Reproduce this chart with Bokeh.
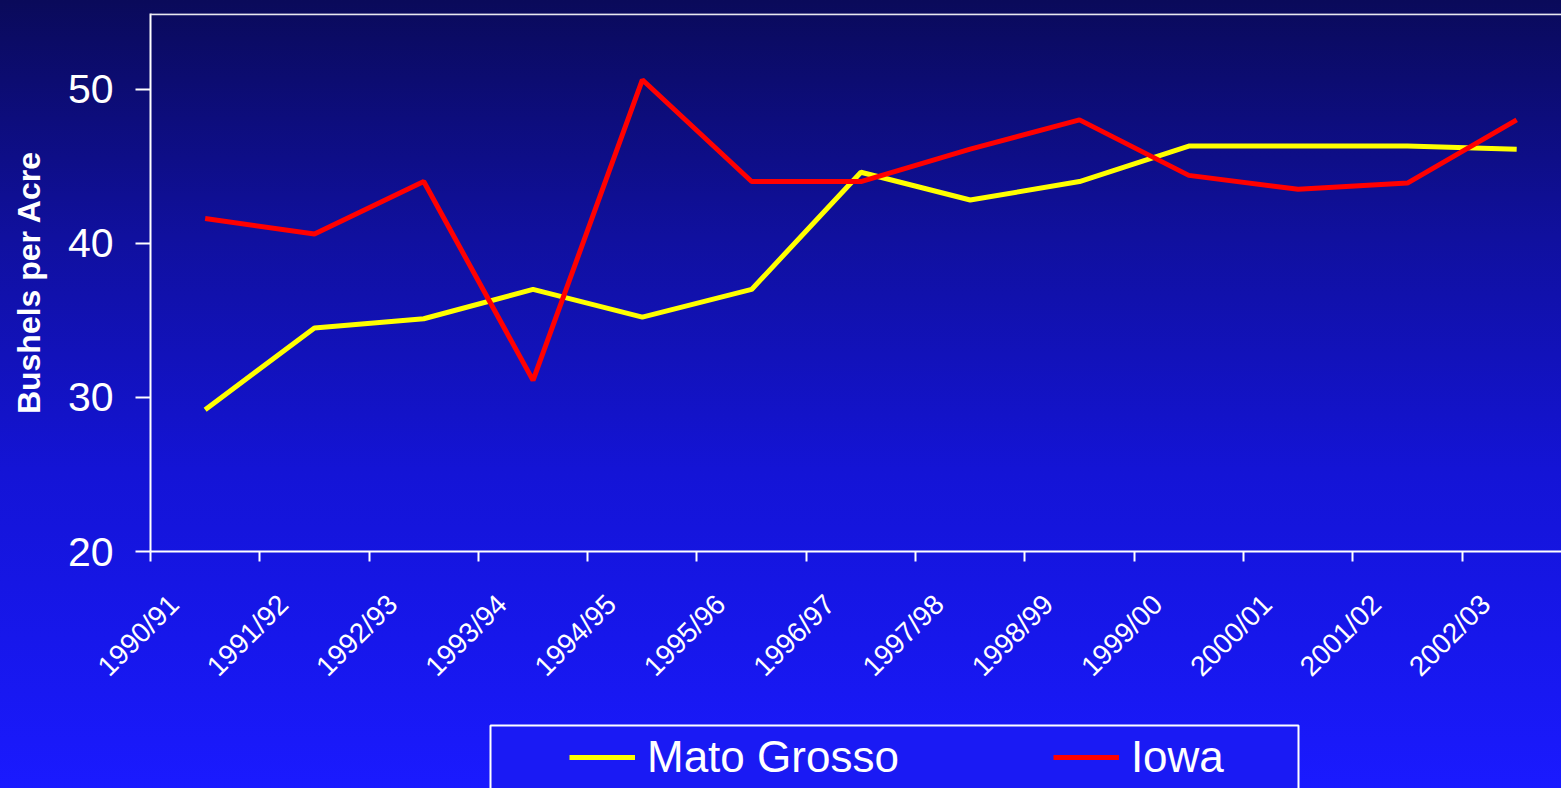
import math
from bokeh.plotting import figure
from bokeh.layouts import column
from bokeh.models import (Range1d, FixedTicker, LinearAxis, CustomJSTickFormatter,
                          Legend, LegendItem, Span, ColumnDataSource, BoxAnnotation)
from bokeh.embed import file_html
from bokeh.resources import INLINE

years = ["1990/91", "1991/92", "1992/93", "1993/94", "1994/95", "1995/96", "1996/97",
         "1997/98", "1998/99", "1999/00", "2000/01", "2001/02", "2002/03"]
mato_grosso = [29.2, 34.5, 35.1, 37.0, 35.2, 37.0, 44.6, 42.8, 44.0, 46.3, 46.3, 46.3, 46.1]
iowa = [41.6, 40.6, 44.0, 31.1, 50.6, 44.0, 44.0, 46.1, 48.0, 44.4, 43.5, 43.9, 48.0]
series_names = ["Mato Grosso", "Iowa"]
series_colors = ["#ffff00", "#ff0000"]
y_ticks = [20, 30, 40, 50]

n = len(years)
xpos = [i + 0.5 for i in range(n)]
label_pos = [i + 0.215 for i in range(n)]
src = ColumnDataSource(dict(x=xpos, year=years, mg=mato_grosso, ia=iowa))

W = 1561
H1, H2 = 700, 88
p = figure(width=W, height=H1, output_backend="svg", toolbar_location=None,
           x_range=Range1d(0, 12.91), y_range=Range1d(20, 54.9),
           x_axis_type=None, y_axis_type=None,
           min_border_left=150, min_border_top=13, min_border_right=0, min_border_bottom=149)
p.border_fill_color = None
p.background_fill_color = None
p.outline_line_color = None

# y axis
yax = LinearAxis(ticker=FixedTicker(ticks=y_ticks, minor_ticks=[]),
                 axis_label="Bushels per Acre")
yax.axis_line_color = "white"
yax.axis_line_width = 2
yax.major_tick_line_color = "white"
yax.major_tick_line_width = 2
yax.major_tick_in = 0
yax.major_tick_out = 15
yax.minor_tick_line_color = None
yax.major_label_text_color = "white"
yax.major_label_text_font = "Liberation Sans"
yax.major_label_text_font_size = "41px"
yax.major_label_standoff = 22
yax.axis_label_text_color = "white"
yax.axis_label_text_font = "Liberation Sans"
yax.axis_label_text_font_style = "bold"
yax.axis_label_text_font_size = "32px"
yax.axis_label_standoff = 18
p.add_layout(yax, "left")

# x axis
xax = LinearAxis(ticker=FixedTicker(ticks=label_pos, minor_ticks=list(range(n))),
                 formatter=CustomJSTickFormatter(args=dict(labels=years),
                                                 code="return labels[Math.floor(tick)] || '';"))
xax.axis_line_color = "white"
xax.axis_line_width = 2
xax.major_tick_line_color = None
xax.minor_tick_line_color = "white"
xax.minor_tick_line_width = 2
xax.minor_tick_in = 0
xax.minor_tick_out = 10
xax.major_label_orientation = math.pi / 4
xax.major_label_text_color = "white"
xax.major_label_text_font = "Liberation Sans"
xax.major_label_text_font_size = "28px"
xax.major_label_standoff = 38
p.add_layout(xax, "below")

# grid
p.ygrid.ticker = FixedTicker(ticks=y_ticks)
p.ygrid.grid_line_color = "#e8e8f0"
p.ygrid.grid_line_width = 2
p.add_layout(Span(location=54.85, dimension="width", line_color="#e8e8f0", line_width=2))

p.line("x", "mg", source=src, line_color=series_colors[0], line_width=5)
p.line("x", "ia", source=src, line_color=series_colors[1], line_width=5)

# legend strip (separate figure below the chart; its frame is aligned with the chart's frame)
FRAME_LEFT = 150
p2 = figure(width=W, height=H2, output_backend="svg", toolbar_location=None,
            x_range=Range1d(FRAME_LEFT, W), y_range=Range1d(0, H2),
            x_axis_type=None, y_axis_type=None,
            min_border_left=FRAME_LEFT, min_border_top=0, min_border_right=0, min_border_bottom=0)
p2.border_fill_color = None
p2.background_fill_color = None
p2.outline_line_color = None
p2.xgrid.visible = False
p2.ygrid.visible = False

p2.add_layout(BoxAnnotation(left=490, right=1298, bottom=-20, top=63,
                            fill_color="#1a1af4", fill_alpha=1.0,
                            line_color="white", line_alpha=1.0, line_width=2))

nan = float("nan")
swatches = [p2.line(x=[nan], y=[nan], line_color=c, line_width=5) for c in series_colors]
legend = Legend(items=[LegendItem(label=nm, renderers=[r]) for nm, r in zip(series_names, swatches)],
                orientation="horizontal", location=(569 - FRAME_LEFT, 6))
legend.padding = 8
legend.glyph_width = 66
legend.glyph_height = 50
legend.label_height = 50
legend.label_width = 155
legend.label_standoff = 12
legend.spacing = 154
legend.label_text_color = "white"
legend.label_text_font = "Liberation Sans"
legend.label_text_font_size = "44px"
legend.background_fill_alpha = 0
legend.border_line_color = None
legend.margin = 0
p2.add_layout(legend, "center")

layout = column(p, p2, spacing=0,
                styles={"background": "linear-gradient(to bottom, #0a0a5a 0%, #10109e 30%, #1414d6 60%, #1818f2 88%, #1a1aff 100%)"})

open("out.html", "w").write(file_html(layout, INLINE))
